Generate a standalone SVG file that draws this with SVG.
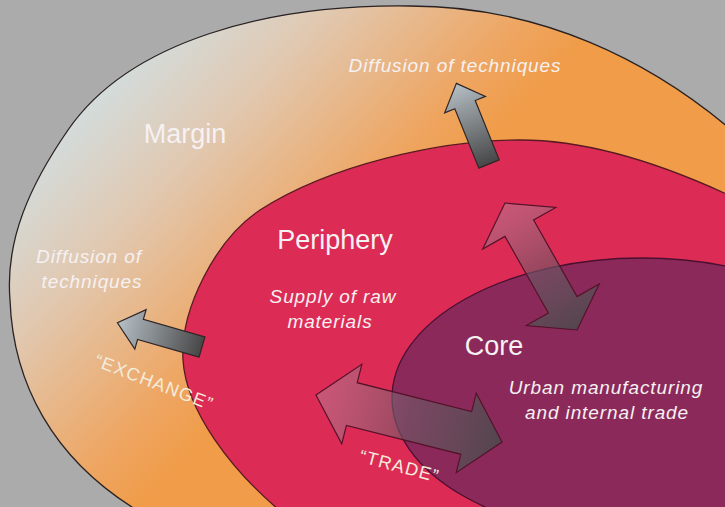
<svg xmlns="http://www.w3.org/2000/svg" width="725" height="507" viewBox="0 0 725 507">
  <defs>
    <linearGradient id="marginFill" gradientUnits="userSpaceOnUse" x1="100" y1="90" x2="330" y2="310">
      <stop offset="0" stop-color="#d3dcdc"/>
      <stop offset="0.35" stop-color="#e1c8b0"/>
      <stop offset="0.8" stop-color="#eea663"/>
      <stop offset="1" stop-color="#f09c48"/>
    </linearGradient>
    <linearGradient id="grayArrow" x1="0" y1="0" x2="1" y2="0">
      <stop offset="0" stop-color="#474747"/>
      <stop offset="1" stop-color="#b6c0c6"/>
    </linearGradient>
    <linearGradient id="dualArrow" x1="0" y1="0" x2="1" y2="0">
      <stop offset="0" stop-color="#b48ca0" stop-opacity="0.45"/>
      <stop offset="0.5" stop-color="#6e5a66" stop-opacity="0.6"/>
      <stop offset="1" stop-color="#464b4b" stop-opacity="0.82"/>
    </linearGradient>
    <style>
      .outline { stroke-width: 1.3; }
      .sarrow { fill: url(#grayArrow); stroke: #2e2626; stroke-width: 1.2; stroke-linejoin: miter; }
      .darrow { fill: url(#dualArrow); stroke: #55122a; stroke-width: 1.2; stroke-linejoin: miter; }
      .title { font-family: "Liberation Sans", Arial, sans-serif; font-size: 27px; fill: #f6f1f2; text-anchor: middle; }
      .note { font-family: "Liberation Sans", Arial, sans-serif; font-size: 19px; font-style: italic; letter-spacing: 0.9px; fill: #f6f1f2; text-anchor: middle; }
      .flow { font-family: "Liberation Sans", Arial, sans-serif; font-size: 18px; letter-spacing: 1.3px; fill: #f4ecdc; text-anchor: middle; }
    </style>
  </defs>

  <rect width="725" height="507" fill="#ababab"/>

  <g id="margin">
    <path class="outline" d="M 735 133 C 650 60, 540 6, 410 6 C 270 4, 130 40, 68 130 C 30 185, 5 240, 10 300 C 13 380, 50 460, 145 515 L 735 515 Z" fill="url(#marginFill)" stroke="#2a2222"/>
    <text class="title" x="185" y="143">Margin</text>
  </g>

  <g id="periphery">
    <path class="outline" d="M 735 198 C 680 172, 600 140, 520 140 C 440 140, 330 165, 260 210 C 215 240, 180 310, 183 360 C 186 410, 230 470, 285 515 L 735 515 Z" fill="#dc2b55" stroke="#5a1a22"/>
    <text class="title" x="335" y="249">Periphery</text>
    <text class="note" x="333" y="303">Supply of raw</text>
    <text class="note" x="330" y="328">materials</text>
  </g>

  <g id="core">
    <ellipse class="outline" cx="642" cy="398" rx="250" ry="140" fill="#8b2a5a" stroke="#4a1030"/>
    <text class="title" x="494" y="355">Core</text>
    <text class="note" x="606" y="394">Urban manufacturing</text>
    <text class="note" x="607" y="419">and internal trade</text>
  </g>

  <g id="connectors">
    <polygon class="sarrow" transform="translate(489,164) rotate(-112)" points="0,-11 64,-11 64,-22 87,0 64,22 64,11 0,11"/>
    <polygon class="sarrow" transform="translate(202,347) rotate(196)" points="0,-10.5 64,-10.5 64,-20.5 88,0 64,20.5 64,10.5 0,10.5"/>
    <polygon class="darrow" transform="translate(541,266.5) rotate(60.4)" points="-73,0 -44,-42 -44,-16.5 44,-16.5 44,-42 73,0 44,42 44,16.5 -44,16.5 -44,42"/>
    <polygon class="darrow" transform="translate(409,418.5) rotate(14.2)" points="-96,0 -59,-41 -59,-22 59,-22 59,-41 96,0 59,41 59,22 -59,22 -59,41"/>
  </g>

  <g id="labels">
    <text class="note" x="455" y="72">Diffusion of techniques</text>
    <text class="note" x="89" y="263">Diffusion of</text>
    <text class="note" x="92" y="288">techniques</text>
    <text class="flow" transform="translate(152,388) rotate(21)" x="0" y="0">“EXCHANGE”</text>
    <text class="flow" transform="translate(398,472) rotate(15)" x="0" y="0">“TRADE”</text>
  </g>
</svg>
